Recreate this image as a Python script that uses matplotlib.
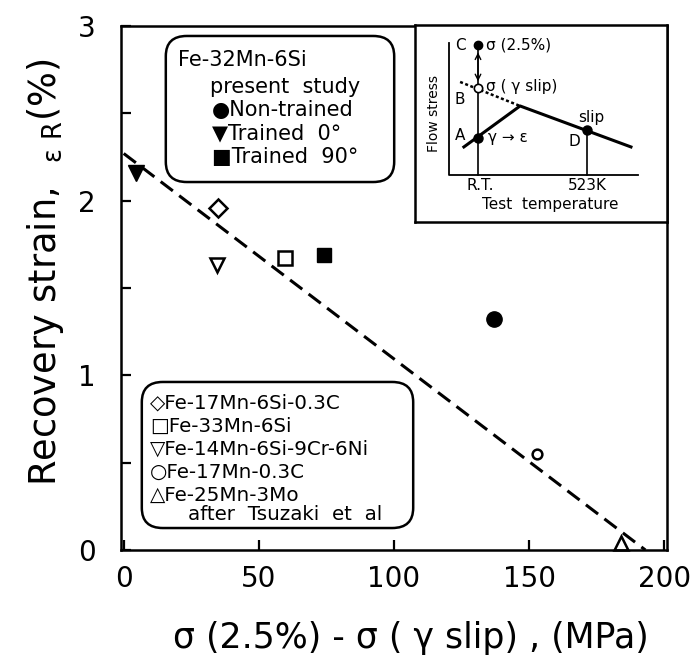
import matplotlib
matplotlib.use('Agg')
import matplotlib.pyplot as plt
from matplotlib.patches import FancyBboxPatch

plt.rcParams['font.family'] = ['DejaVu Sans']

# Fe-32Mn-6Si, present study
nontrained_x = [137]
nontrained_y = [1.32]
trained0_x = [4.5]
trained0_y = [2.16]
trained90_x = [74]
trained90_y = [1.69]

# after Tsuzaki et al
fe17mn6si_x = [35]
fe17mn6si_y = [1.96]
fe33mn_x = [59.5]
fe33mn_y = [1.67]
fe14mn_x = [34.5]
fe14mn_y = [1.63]
fe17mn03c_x = [153]
fe17mn03c_y = [0.55]
fe25mn_x = [184]
fe25mn_y = [0.04]

# linea de ajuste
fit_x = [0, 193]
fit_y = [2.27, 0]

W, H = 699, 671
fig = plt.figure(figsize=(W / 100, H / 100), dpi=100)


def fx(px):
    return px / W


def fy(py):
    return 1 - py / H


ax = fig.add_axes([fx(121), fy(550), fx(667) - fx(121), fy(26) - fy(550)])
ax.set_xlim(-1, 201)
ax.set_ylim(0, 3)

lw = 1.8
for s in ax.spines.values():
    s.set_linewidth(lw)

ax.set_xticks([0, 50, 100, 150, 200])
ax.set_yticks([0, 1, 2, 3])
ax.set_yticks([0.5, 1.5, 2.5], minor=True)
ax.tick_params(axis='both', which='both', direction='in', length=7, width=1.6,
               labelsize=20)
ax.tick_params(axis='x', pad=11)
ax.tick_params(axis='y', pad=18)

ax.plot(fit_x, fit_y, ls=(0, (5, 2.6)), color='black', lw=2.2)

ax.plot(nontrained_x, nontrained_y, 'o', ms=11, color='black', clip_on=False)
ax.plot(trained0_x, trained0_y, 'v', ms=11, color='black', clip_on=False)
ax.plot(trained90_x, trained90_y, 's', ms=9.5, color='black', clip_on=False)

opn = dict(mfc='white', mec='black', mew=1.8, clip_on=False, ls='none')
ax.plot(fe17mn6si_x, fe17mn6si_y, 'D', ms=9, **opn)
ax.plot(fe33mn_x, fe33mn_y, 's', ms=10, **opn)
ax.plot(fe14mn_x, fe14mn_y, 'v', ms=10, **opn)
ax.plot(fe17mn03c_x, fe17mn03c_y, 'o', ms=7, **opn)
ax.plot(fe25mn_x, fe25mn_y, '^', ms=10, **opn)

ax.set_ylabel('Recovery strain,  $\\mathregular{_{\\varepsilon\\ R}}$(%)', fontsize=26.5)
ax.yaxis.set_label_coords(-0.10, 0.53)
ax.set_xlabel('σ (2.5%) - σ ( γ slip) , (MPa)', fontsize=25)
ax.xaxis.set_label_coords(0.53, -0.135)

# cajas de leyenda
box1 = FancyBboxPatch((fx(170), fy(178)), fx(390) - fx(170), fy(40) - fy(178),
                      boxstyle='round,pad=0.006,rounding_size=0.03',
                      transform=fig.transFigure, fc='white', ec='black', lw=1.8)
fig.patches.append(box1)
fig.text(fx(178), fy(60), 'Fe-32Mn-6Si', fontsize=15, va='center')
fig.text(fx(210), fy(87), 'present  study', fontsize=15, va='center')
fig.text(fx(212), fy(110), '●Non-trained', fontsize=15, va='center')
fig.text(fx(212), fy(133), '▼Trained  0°', fontsize=15, va='center')
fig.text(fx(212), fy(157), '■Trained  90°', fontsize=15, va='center')

box2 = FancyBboxPatch((fx(146), fy(524)), fx(409) - fx(146), fy(386) - fy(524),
                      boxstyle='round,pad=0.006,rounding_size=0.03',
                      transform=fig.transFigure, fc='white', ec='black', lw=1.8)
fig.patches.append(box2)
rows2 = ['◇Fe-17Mn-6Si-0.3C', '□Fe-33Mn-6Si', '▽Fe-14Mn-6Si-9Cr-6Ni',
         '○Fe-17Mn-0.3C', '△Fe-25Mn-3Mo']
for i, r in enumerate(rows2):
    fig.text(fx(150), fy(403 + i * 23), r, fontsize=14.3, va='center')
fig.text(fx(188), fy(515), 'after  Tsuzaki  et  al', fontsize=14.3, va='center')

# esquema (inset)
ins = fig.add_axes([fx(415), fy(222), fx(667) - fx(415), fy(25) - fy(222)])
ins.set_xlim(0, 1)
ins.set_ylim(0, 1)
ins.set_xticks([])
ins.set_yticks([])
for s in ins.spines.values():
    s.set_linewidth(1.8)

ins.plot([0.135, 0.135, 0.885], [0.909, 0.239, 0.239], color='black', lw=1.3)
ins.plot([0.25, 0.25], [0.898, 0.239], color='black', lw=1.2)
ins.plot([0.683, 0.683], [0.467, 0.239], color='black', lw=1.2)
ins.plot([0.194, 0.417, 0.857], [0.381, 0.589, 0.381], color='black', lw=2.2)
ins.plot([0.179, 0.417], [0.711, 0.589], color='black', lw=1.8, ls=(0, (1.2, 1)))
ins.annotate('', xy=(0.25, 0.875), xytext=(0.25, 0.70),
             arrowprops=dict(arrowstyle='<->', lw=1.0, color='black'))
ins.plot([0.25], [0.898], 'o', ms=6, color='black')
ins.plot([0.25], [0.680], 'o', ms=6, mfc='white', mec='black', mew=1.2)
ins.plot([0.25], [0.426], 'o', ms=6.5, color='black')
ins.plot([0.683], [0.467], 'o', ms=6.5, color='black')

fs = 11
ins.text(0.20, 0.898, 'C', fontsize=fs, ha='right', va='center')
ins.text(0.28, 0.898, 'σ (2.5%)', fontsize=fs, va='center')
ins.text(0.28, 0.69, 'σ ( γ slip)', fontsize=fs, va='center')
ins.text(0.20, 0.62, 'B', fontsize=fs, ha='right', va='center')
ins.text(0.20, 0.44, 'A', fontsize=fs, ha='right', va='center')
ins.text(0.29, 0.43, 'γ → ε', fontsize=fs, va='center')
ins.text(0.70, 0.53, 'slip', fontsize=fs, ha='center', va='center')
ins.text(0.655, 0.41, 'D', fontsize=fs, ha='right', va='center')
ins.text(0.258, 0.185, 'R.T.', fontsize=fs, ha='center', va='center')
ins.text(0.686, 0.185, '523K', fontsize=fs, ha='center', va='center')
ins.text(0.536, 0.09, 'Test  temperature', fontsize=fs, ha='center', va='center')
ins.text(0.075, 0.55, 'Flow stress', fontsize=10, rotation=90,
         ha='center', va='center')

fig.savefig('out.png', dpi=100)
